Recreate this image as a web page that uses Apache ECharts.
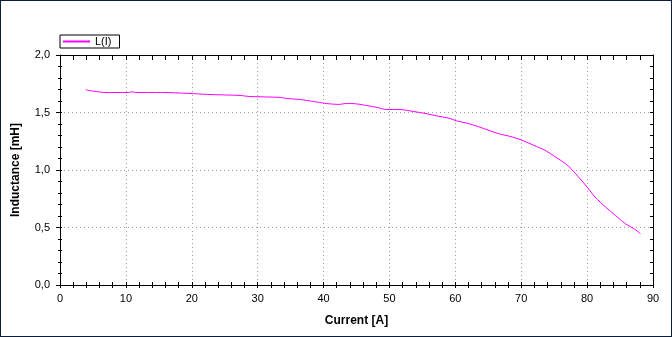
<!DOCTYPE html>
<html><head><meta charset="utf-8">
<script src="https://cdn.jsdelivr.net/npm/echarts@6/dist/echarts.min.js"></script>
<style>
html,body{margin:0;padding:0;background:#fff;}
#c{position:absolute;left:0;top:0;width:670px;height:335px;border:1px solid #0a1e3c;background:#fff;}
</style></head>
<body><div id="c"></div>
<script>
const seriesName = 'L(I)';
const xTitle = 'Current [A]';
const yTitle = 'Inductance [mH]';
const currentA = [3.9, 4.3, 5.5, 6.6, 10.4, 11.0, 11.5, 15.4, 19.6, 22.4, 27.5, 28.5, 33.5, 34.4, 36.5, 37.4, 38.5, 39.4, 40.4, 42.4, 43.3, 44.3, 46.5, 48.1, 49.6, 51.6, 53.6, 55.4, 57.4, 59.2, 60.2, 62.0, 64.3, 66.5, 68.6, 70.1, 71.9, 73.6, 75.2, 76.7, 77.7, 78.7, 80.0, 81.2, 82.8, 84.3, 85.8, 87.1, 88.1];
const inductanceMH = [1.700, 1.692, 1.683, 1.674, 1.674, 1.680, 1.674, 1.674, 1.666, 1.657, 1.648, 1.640, 1.631, 1.622, 1.613, 1.605, 1.596, 1.587, 1.578, 1.570, 1.578, 1.578, 1.561, 1.544, 1.526, 1.526, 1.509, 1.492, 1.468, 1.448, 1.427, 1.404, 1.361, 1.317, 1.288, 1.259, 1.215, 1.172, 1.113, 1.056, 1.003, 0.939, 0.852, 0.765, 0.678, 0.605, 0.533, 0.490, 0.446];

const font = 'Liberation Sans, Arial, sans-serif';
const chart = echarts.init(document.getElementById('c'));
const gridLine = {show:true, lineStyle:{color:'#a0a0a0', type:[1,3], width:1}};
const axLine = {show:true, onZero:false, lineStyle:{color:'#000', width:1}};
chart.setOption({
  animation:false,
  backgroundColor:'#fff',
  grid:{left:59, top:54, width:593, height:230},
  legend:{left:59, top:34, orient:'horizontal', borderColor:'#000', borderWidth:1, padding:[1,8,1,3],
    itemWidth:27, itemHeight:2, itemGap:4, icon:'rect',
    textStyle:{fontFamily:font, fontSize:11, color:'#000'},
    data:[{name:seriesName, icon:'rect', itemStyle:{color:'#ff00ff'}}]},
  xAxis:[
    {type:'value', min:0, max:90, interval:10, position:'bottom',
     name:xTitle, nameLocation:'middle', nameGap:30,
     nameTextStyle:{fontFamily:font, fontSize:12, fontWeight:'bold', color:'#000'},
     axisLine:axLine,
     axisTick:{show:true, length:3, inside:false, lineStyle:{color:'#000'}},
     minorTick:{show:true, splitNumber:5, length:3, lineStyle:{color:'#000'}},
     splitLine:gridLine,
     axisLabel:{fontFamily:font, fontSize:11, color:'#000', margin:8}},
    {type:'value', min:0, max:90, interval:10, position:'top',
     axisLine:axLine,
     axisTick:{show:true, length:5, inside:true, lineStyle:{color:'#000'}},
     minorTick:{show:true, splitNumber:5, length:5, lineStyle:{color:'#000'}},
     splitLine:{show:false}, axisLabel:{show:false}},
    {type:'value', min:0, max:90, interval:10, position:'bottom',
     axisLine:{show:false},
     axisTick:{show:true, length:3, inside:true, lineStyle:{color:'#000'}},
     minorTick:{show:true, splitNumber:5, length:3, lineStyle:{color:'#000'}},
     splitLine:{show:false}, axisLabel:{show:false}}
  ],
  yAxis:[
    {type:'value', min:0, max:2, interval:0.5, position:'left',
     name:yTitle, nameLocation:'middle', nameGap:38,
     nameTextStyle:{fontFamily:font, fontSize:12, fontWeight:'bold', color:'#000'},
     axisLine:axLine,
     axisTick:{show:true, length:4, inside:false, lineStyle:{color:'#000'}},
     minorTick:{show:true, splitNumber:5, length:2, lineStyle:{color:'#000'}},
     splitLine:gridLine,
     axisLabel:{fontFamily:font, fontSize:11, color:'#000', margin:10,
       formatter:v=>v.toFixed(1).replace('.', ',')}},
    {type:'value', min:0, max:2, interval:0.5, position:'right',
     axisLine:axLine,
     axisTick:{show:true, length:3, inside:true, lineStyle:{color:'#000'}},
     minorTick:{show:true, splitNumber:5, length:3, lineStyle:{color:'#000'}},
     splitLine:{show:false}, axisLabel:{show:false}},
    {type:'value', min:0, max:2, interval:0.5, position:'left',
     axisLine:{show:false},
     axisTick:{show:true, length:2, inside:true, lineStyle:{color:'#000'}},
     minorTick:{show:true, splitNumber:5, length:2, lineStyle:{color:'#000'}},
     splitLine:{show:false}, axisLabel:{show:false}}
  ],
  series:[{
    name:seriesName, type:'line', xAxisIndex:0, yAxisIndex:0,
    data:currentA.map((x,i)=>[x, inductanceMH[i]]),
    symbol:'none', showSymbol:false, smooth:0.3,
    lineStyle:{color:'#ff00ff', width:1}, itemStyle:{color:'#ff00ff'}
  }]
});
</script></body></html>
